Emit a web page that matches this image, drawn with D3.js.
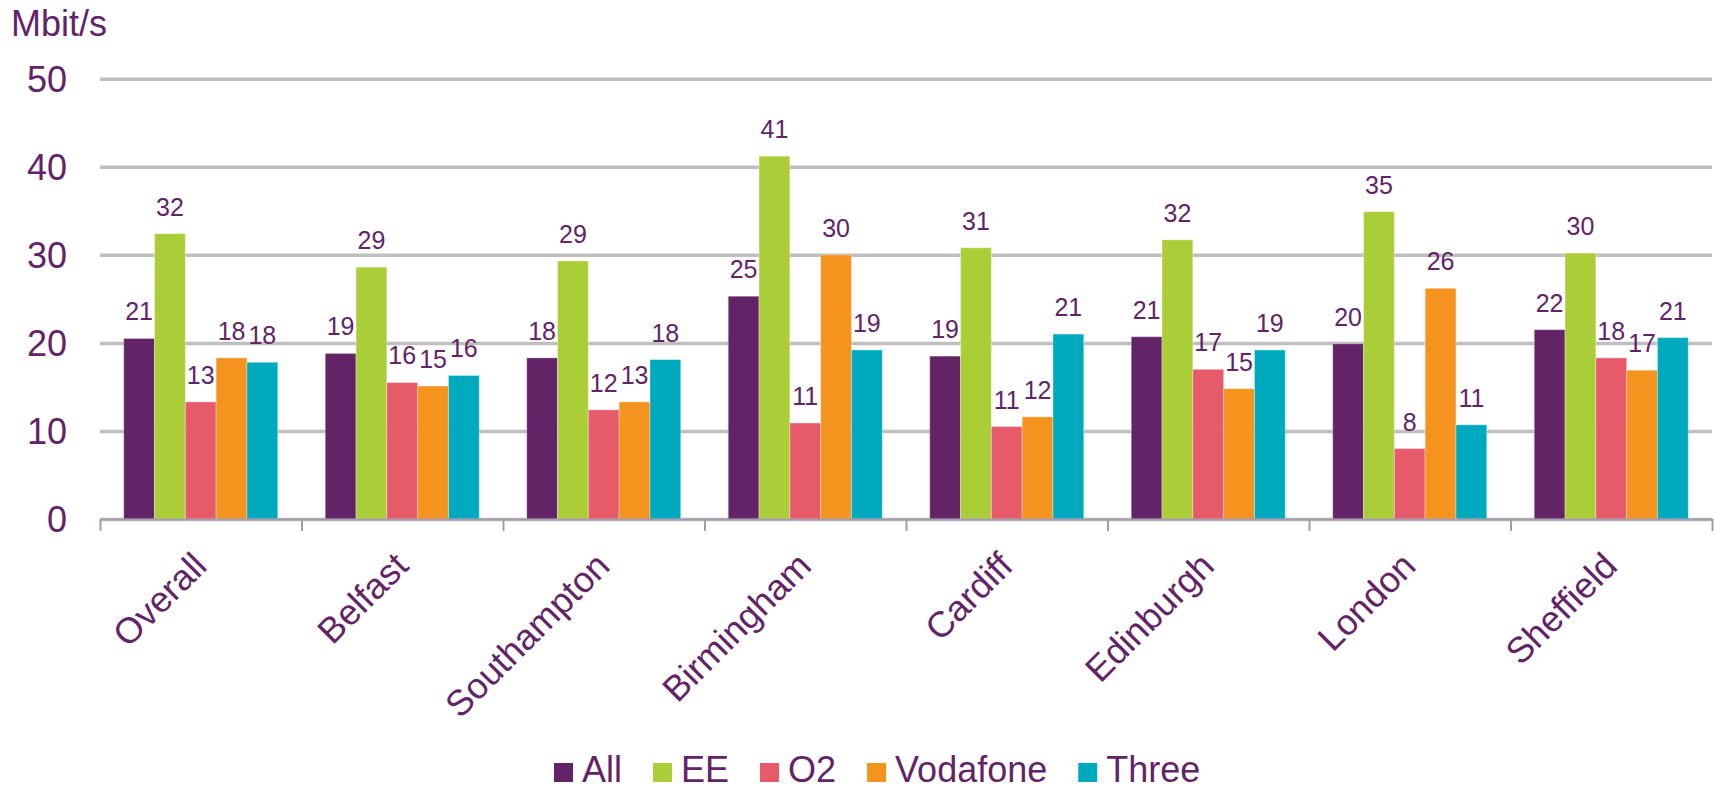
<!DOCTYPE HTML>
<html>
<head>
    <meta charset="utf-8">
    <title>Mbit/s by city</title>
    <script src="https://d3js.org/d3.v7.min.js"></script>
    <style>
        body { margin: 0; background: #fff; }
        svg text { font-family: "Liberation Sans", Arial, sans-serif; fill: #622466; }
    </style>
</head>
<body>
<svg id="chart" width="1714" height="790"></svg>
<script type="text/javascript">
    const categories = ["Overall", "Belfast", "Southampton", "Birmingham", "Cardiff", "Edinburgh", "London", "Sheffield"];
    const seriesNames = ["All", "EE", "O2", "Vodafone", "Three"];
    const allValues = [20.5, 18.8, 18.3, 25.3, 18.5, 20.7, 19.9, 21.5];
    const eeValues = [32.4, 28.6, 29.3, 41.2, 30.8, 31.7, 34.9, 30.2];
    const o2Values = [13.3, 15.5, 12.4, 10.9, 10.5, 17.0, 8.0, 18.3];
    const vodafoneValues = [18.3, 15.1, 13.3, 30.0, 11.6, 14.8, 26.2, 16.9];
    const threeValues = [17.8, 16.3, 18.1, 19.2, 21.0, 19.2, 10.7, 20.6];
    const yTicks = [0, 10, 20, 30, 40, 50];

    const seriesColors = ["#622466", "#aace38", "#e65a6a", "#f5931f", "#00aabe"];
    const seriesValues = [allValues, eeValues, o2Values, vodafoneValues, threeValues];

    var svg = d3.select("#chart"),
        margin = { top: 78.7, right: 2, bottom: 271, left: 100 },
        width = +svg.attr("width") - margin.left - margin.right,
        height = +svg.attr("height") - margin.top - margin.bottom;

    var x0 = d3.scaleBand().domain(categories).range([0, width]);
    var x1 = d3.scaleBand().domain(seriesNames).range([0, x0.bandwidth()]).paddingOuter(0.77);
    var y = d3.scaleLinear().domain([0, 50]).range([height, 0]);
    var color = d3.scaleOrdinal().domain(seriesNames).range(seriesColors);

    var g = svg.append("g")
        .attr("transform", "translate(" + margin.left + "," + margin.top + ")");

    // y axis + gridlines
    var yAxis = g.append("g")
        .call(d3.axisLeft(y).tickValues(yTicks).tickSizeInner(-width).tickSizeOuter(0).tickPadding(33));
    yAxis.select(".domain").remove();
    yAxis.selectAll(".tick line")
        .attr("stroke", "#bfbfbf")
        .attr("stroke-width", 3.5);
    yAxis.selectAll(".tick text")
        .style("font-size", "36px")
        .attr("dy", "0.36em");

    svg.append("text")
        .attr("x", 11)
        .attr("y", 36)
        .style("font-size", "36px")
        .text("Mbit/s");

    // bars
    var rows = categories.map((c, i) => ({
        category: c,
        values: seriesNames.map((s, j) => ({ series: s, value: seriesValues[j][i] }))
    }));

    var groups = g.selectAll(".group")
        .data(rows)
        .enter().append("g")
        .attr("class", "group")
        .attr("transform", d => "translate(" + x0(d.category) + ",0)");

    groups.selectAll("rect")
        .data(d => d.values)
        .enter().append("rect")
        .attr("x", d => x1(d.series))
        .attr("y", d => y(d.value))
        .attr("width", x1.bandwidth())
        .attr("height", d => y(0) - y(d.value))
        .attr("fill", d => color(d.series))
        .attr("stroke", "#fff")
        .attr("stroke-opacity", 0.35)
        .attr("stroke-width", 1);

    groups.selectAll(".label")
        .data(d => d.values)
        .enter().append("text")
        .attr("class", "label")
        .attr("x", d => x1(d.series) + x1.bandwidth() / 2)
        .attr("y", d => y(d.value) - 18)
        .attr("text-anchor", "middle")
        .style("font-size", "25px")
        .text(d => Math.round(d.value));

    // x axis line and boundary ticks
    var boundary = d3.scaleLinear().domain([0, categories.length]).range([0, width]);
    var xLine = g.append("g")
        .attr("transform", "translate(0," + height + ")")
        .call(d3.axisBottom(boundary).ticks(categories.length).tickFormat("").tickSizeInner(12).tickSizeOuter(0));
    xLine.select(".domain").attr("stroke", "#a898ac").attr("stroke-width", 2);
    xLine.selectAll(".tick line").attr("stroke", "#a898ac").attr("stroke-width", 2);

    var xLabels = g.append("g")
        .attr("transform", "translate(0," + height + ")")
        .call(d3.axisBottom(x0).tickSize(0));
    xLabels.select(".domain").remove();
    xLabels.selectAll(".tick text")
        .attr("x", 0)
        .attr("y", 0)
        .attr("dy", 0)
        .attr("text-anchor", "end")
        .attr("transform", "translate(8,49) rotate(-45)")
        .style("font-size", "36px");

    // legend
    var legend = svg.append("g").attr("transform", "translate(554,0)");
    var lx = 0;
    seriesNames.forEach(function(s) {
        legend.append("rect")
            .attr("x", lx)
            .attr("y", 763)
            .attr("width", 19)
            .attr("height", 19)
            .attr("fill", color(s));
        var t = legend.append("text")
            .attr("x", lx + 28)
            .attr("y", 782)
            .style("font-size", "36px")
            .text(s);
        lx += 28 + t.node().getComputedTextLength() + 31;
    });
</script>
</body>
</html>
